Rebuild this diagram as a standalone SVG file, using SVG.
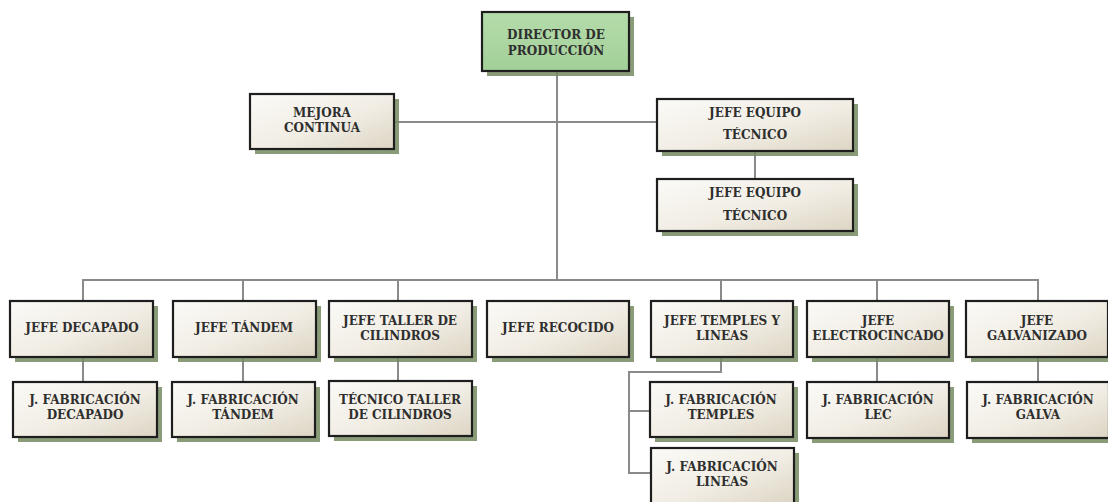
<svg xmlns="http://www.w3.org/2000/svg" width="1108" height="502" viewBox="0 0 1108 502">
<defs>
<linearGradient id="g" x1="0" y1="0" x2="1" y2="1">
<stop offset="0" stop-color="#fbfaf7"/>
<stop offset="0.55" stop-color="#f1ede4"/>
<stop offset="1" stop-color="#ddd5c4"/>
</linearGradient>
<linearGradient id="gg" x1="0" y1="0" x2="0" y2="1">
<stop offset="0" stop-color="#b5dcab"/>
<stop offset="1" stop-color="#a2cf98"/>
</linearGradient>
</defs>
<style>
.sh{fill:#74895f;opacity:0.85}
.bx{fill:url(#g);stroke:#1e1e1e;stroke-width:2.2}
.gr{fill:url(#gg);stroke:#1e1e1e;stroke-width:2.2}
text{font-family:"DejaVu Serif","Liberation Serif",serif;font-weight:bold;font-size:12px;fill:#2e2e2e;text-anchor:middle}
.c{fill:none;stroke:#8a8a8a;stroke-width:2}
</style>
<rect width="1108" height="502" fill="#ffffff"/>
<g id="connectors">
<path class="c" d="M557 71V280"/>
<path class="c" d="M394 122H657"/>
<path class="c" d="M755 151V179"/>
<path class="c" d="M83 301V280H1038V301"/>
<path class="c" d="M243 280V301M398 280V301M721 280V301M877 280V301"/>
<path class="c" d="M83 357V382M243 357V382M398 357V381M877 357V382M1038 357V382"/>
<path class="c" d="M721 357V372H629V473H651M629 411H650"/>
</g>
<g id="director"><rect class="sh" x="487" y="17" width="147" height="59"/><rect class="gr" x="482" y="12" width="147" height="59"/><text x="556" y="39">DIRECTOR DE</text><text x="556" y="55">PRODUCCIÓN</text></g>
<g id="mejora"><rect class="sh" x="255" y="99" width="144" height="55"/><rect class="bx" x="250" y="94" width="144" height="55"/><text x="322" y="117">MEJORA</text><text x="322" y="132">CONTINUA</text></g>
<g id="equipo1"><rect class="sh" x="662" y="104" width="196" height="52"/><rect class="bx" x="657" y="99" width="196" height="52"/><text x="755" y="117">JEFE EQUIPO</text><text x="755" y="139">TÉCNICO</text></g>
<g id="equipo2"><rect class="sh" x="662" y="184" width="196" height="52"/><rect class="bx" x="657" y="179" width="196" height="52"/><text x="755" y="197">JEFE EQUIPO</text><text x="755" y="220">TÉCNICO</text></g>
<g id="decapado"><rect class="sh" x="15" y="306" width="143" height="56"/><rect class="bx" x="10" y="301" width="143" height="56"/><text x="82" y="332">JEFE DECAPADO</text></g>
<g id="tandem"><rect class="sh" x="178" y="306" width="143" height="56"/><rect class="bx" x="173" y="301" width="143" height="56"/><text x="244" y="332">JEFE TÁNDEM</text></g>
<g id="taller"><rect class="sh" x="334" y="306" width="143" height="56"/><rect class="bx" x="329" y="301" width="143" height="56"/><text x="400" y="325">JEFE TALLER DE</text><text x="400" y="340">CILINDROS</text></g>
<g id="recocido"><rect class="sh" x="492" y="306" width="142" height="56"/><rect class="bx" x="487" y="301" width="142" height="56"/><text x="558" y="332">JEFE RECOCIDO</text></g>
<g id="temples"><rect class="sh" x="656" y="306" width="142" height="56"/><rect class="bx" x="651" y="301" width="142" height="56"/><text x="722" y="325">JEFE TEMPLES Y</text><text x="722" y="340">LINEAS</text></g>
<g id="electro"><rect class="sh" x="812" y="306" width="142" height="56"/><rect class="bx" x="807" y="301" width="142" height="56"/><text x="878" y="325">JEFE</text><text x="878" y="340">ELECTROCINCADO</text></g>
<g id="galva"><rect class="sh" x="971" y="306" width="142" height="56"/><rect class="bx" x="966" y="301" width="142" height="56"/><text x="1037" y="325">JEFE</text><text x="1037" y="340">GALVANIZADO</text></g>
<g id="fdecapado"><rect class="sh" x="18" y="387" width="144" height="55"/><rect class="bx" x="13" y="382" width="144" height="55"/><text x="85" y="404">J. FABRICACIÓN</text><text x="85" y="419">DECAPADO</text></g>
<g id="ftandem"><rect class="sh" x="177" y="387" width="143" height="55"/><rect class="bx" x="172" y="382" width="143" height="55"/><text x="243" y="404">J. FABRICACIÓN</text><text x="243" y="419">TÁNDEM</text></g>
<g id="ttaller"><rect class="sh" x="334" y="386" width="143" height="55"/><rect class="bx" x="329" y="381" width="143" height="55"/><text x="400" y="404">TÉCNICO TALLER</text><text x="400" y="419">DE CILINDROS</text></g>
<g id="ftemples"><rect class="sh" x="655" y="387" width="143" height="55"/><rect class="bx" x="650" y="382" width="143" height="55"/><text x="721" y="404">J. FABRICACIÓN</text><text x="721" y="419">TEMPLES</text></g>
<g id="flineas"><rect class="sh" x="656" y="453" width="143" height="56"/><rect class="bx" x="651" y="448" width="143" height="56"/><text x="722" y="471">J. FABRICACIÓN</text><text x="722" y="486">LINEAS</text></g>
<g id="flec"><rect class="sh" x="812" y="387" width="142" height="56"/><rect class="bx" x="807" y="382" width="142" height="56"/><text x="878" y="404">J. FABRICACIÓN</text><text x="878" y="419">LEC</text></g>
<g id="fgalva"><rect class="sh" x="972" y="387" width="142" height="56"/><rect class="bx" x="967" y="382" width="142" height="56"/><text x="1038" y="404">J. FABRICACIÓN</text><text x="1038" y="419">GALVA</text></g>
</svg>
